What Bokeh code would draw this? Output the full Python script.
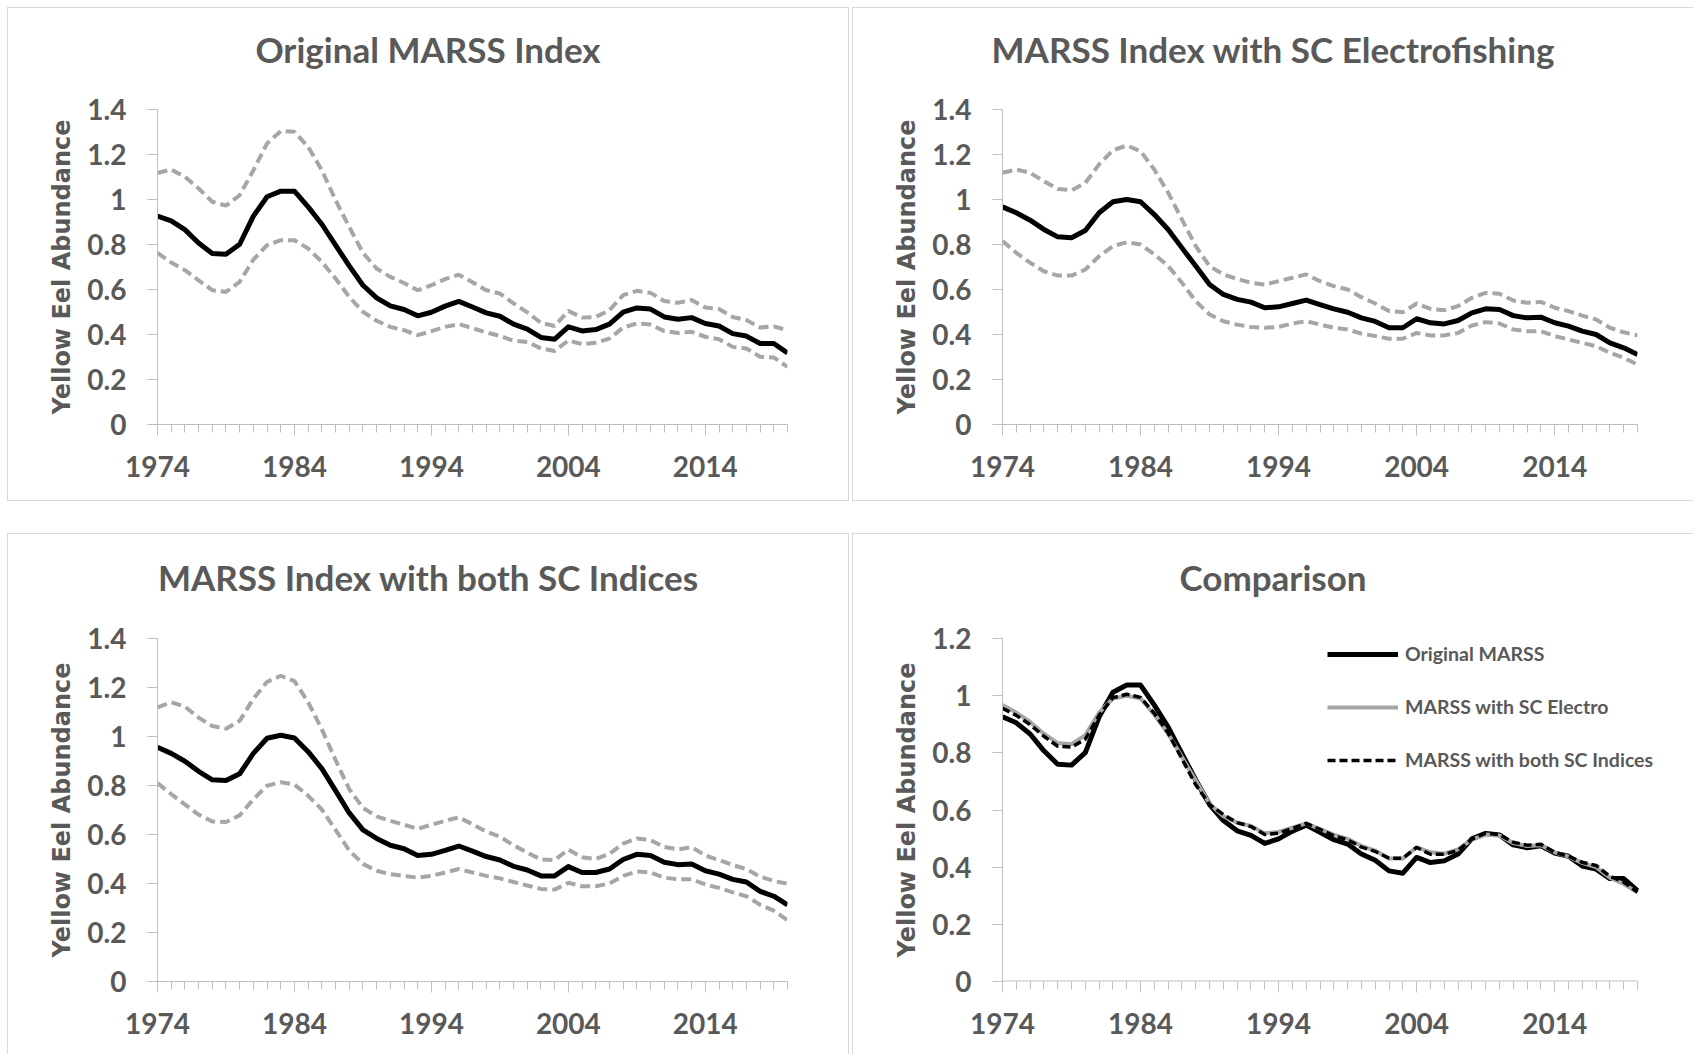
from bokeh.plotting import figure
from bokeh.models import Range1d, FixedTicker, Legend, LegendItem, Div
from bokeh.layouts import row, column
from bokeh.embed import file_html
from bokeh.resources import INLINE

# ---------------- data ----------------
years = list(range(1974, 2021))
year_ticks = [1974, 1984, 1994, 2004, 2014]

y_ticks_a = [0, 0.2, 0.4, 0.6, 0.8, 1.0, 1.2, 1.4]
y_labels_a = ["0", "0.2", "0.4", "0.6", "0.8", "1", "1.2", "1.4"]
y_ticks_b = [0, 0.2, 0.4, 0.6, 0.8, 1.0, 1.2]
y_labels_b = ["0", "0.2", "0.4", "0.6", "0.8", "1", "1.2"]

titles = ["Original MARSS Index", "MARSS Index with SC Electrofishing",
          "MARSS Index with both SC Indices", "Comparison"]
y_title = "Yellow Eel Abundance"
legend_labels = ["Original MARSS", "MARSS with SC Electro", "MARSS with both SC Indices"]

orig_mean = [0.926, 0.905, 0.866, 0.807, 0.760, 0.757, 0.801, 0.926, 1.012, 1.037,
             1.037, 0.967, 0.890, 0.797, 0.705, 0.619, 0.563, 0.527, 0.511, 0.483,
             0.499, 0.526, 0.547, 0.522, 0.496, 0.481, 0.446, 0.424, 0.387, 0.379,
             0.434, 0.416, 0.422, 0.446, 0.499, 0.518, 0.513, 0.478, 0.468, 0.475,
             0.449, 0.438, 0.404, 0.393, 0.360, 0.360, 0.318]
orig_upper = [1.118, 1.133, 1.101, 1.049, 0.990, 0.973, 1.019, 1.130, 1.249, 1.304,
              1.301, 1.234, 1.130, 0.997, 0.878, 0.763, 0.693, 0.656, 0.629, 0.597,
              0.619, 0.646, 0.666, 0.632, 0.597, 0.582, 0.538, 0.498, 0.452, 0.438,
              0.505, 0.475, 0.478, 0.508, 0.575, 0.594, 0.585, 0.549, 0.541, 0.553,
              0.520, 0.513, 0.478, 0.464, 0.431, 0.436, 0.419]
orig_lower = [0.763, 0.720, 0.686, 0.641, 0.597, 0.589, 0.634, 0.733, 0.797, 0.819,
              0.819, 0.782, 0.723, 0.649, 0.567, 0.501, 0.461, 0.434, 0.419, 0.397,
              0.415, 0.434, 0.446, 0.428, 0.409, 0.394, 0.372, 0.367, 0.338, 0.327,
              0.374, 0.357, 0.363, 0.382, 0.431, 0.449, 0.444, 0.415, 0.407, 0.412,
              0.390, 0.379, 0.345, 0.338, 0.301, 0.298, 0.256]

el_mean = [0.967, 0.941, 0.908, 0.867, 0.834, 0.830, 0.862, 0.941, 0.990, 1.000,
           0.990, 0.933, 0.867, 0.785, 0.704, 0.622, 0.578, 0.556, 0.544, 0.519,
           0.523, 0.538, 0.553, 0.533, 0.514, 0.499, 0.474, 0.458, 0.430, 0.430,
           0.470, 0.452, 0.447, 0.462, 0.496, 0.514, 0.511, 0.484, 0.474, 0.477,
           0.452, 0.437, 0.415, 0.400, 0.363, 0.341, 0.311]
el_upper = [1.119, 1.133, 1.119, 1.081, 1.047, 1.041, 1.074, 1.156, 1.219, 1.240,
            1.215, 1.133, 1.030, 0.911, 0.793, 0.704, 0.667, 0.647, 0.630, 0.622,
            0.637, 0.652, 0.667, 0.637, 0.615, 0.600, 0.566, 0.538, 0.504, 0.499,
            0.538, 0.514, 0.508, 0.526, 0.563, 0.585, 0.581, 0.551, 0.541, 0.545,
            0.519, 0.504, 0.484, 0.467, 0.430, 0.410, 0.396]
el_lower = [0.815, 0.763, 0.719, 0.681, 0.662, 0.662, 0.689, 0.748, 0.793, 0.810,
            0.800, 0.756, 0.704, 0.630, 0.548, 0.489, 0.459, 0.444, 0.433, 0.430,
            0.434, 0.449, 0.459, 0.444, 0.430, 0.422, 0.404, 0.393, 0.381, 0.381,
            0.407, 0.396, 0.396, 0.407, 0.440, 0.455, 0.449, 0.422, 0.415, 0.415,
            0.393, 0.378, 0.363, 0.348, 0.319, 0.296, 0.267]

both_mean = [0.956, 0.931, 0.899, 0.858, 0.823, 0.820, 0.848, 0.931, 0.993, 1.005,
             0.994, 0.938, 0.869, 0.779, 0.688, 0.619, 0.584, 0.556, 0.542, 0.514,
             0.519, 0.535, 0.553, 0.532, 0.510, 0.496, 0.470, 0.455, 0.431, 0.431,
             0.469, 0.445, 0.445, 0.459, 0.498, 0.519, 0.514, 0.487, 0.477, 0.480,
             0.452, 0.438, 0.417, 0.406, 0.368, 0.348, 0.313]
both_upper = [1.119, 1.140, 1.122, 1.077, 1.043, 1.032, 1.064, 1.154, 1.223, 1.248,
              1.226, 1.140, 1.029, 0.904, 0.785, 0.709, 0.674, 0.656, 0.640, 0.623,
              0.640, 0.656, 0.670, 0.642, 0.612, 0.591, 0.556, 0.526, 0.498, 0.496,
              0.539, 0.507, 0.500, 0.521, 0.563, 0.584, 0.577, 0.549, 0.539, 0.549,
              0.514, 0.496, 0.475, 0.459, 0.428, 0.410, 0.399]
both_lower = [0.810, 0.765, 0.723, 0.681, 0.653, 0.651, 0.678, 0.744, 0.799, 0.813,
              0.804, 0.758, 0.702, 0.619, 0.535, 0.480, 0.452, 0.438, 0.431, 0.424,
              0.431, 0.445, 0.459, 0.445, 0.431, 0.421, 0.406, 0.392, 0.378, 0.375,
              0.403, 0.389, 0.389, 0.400, 0.431, 0.449, 0.445, 0.424, 0.417, 0.417,
              0.396, 0.382, 0.364, 0.348, 0.313, 0.289, 0.250]

# ---------------- style ----------------
TXT = "#595959"
AX = "#bfbfbf"
BORDER = "#d9d9d9"
BAND = "#a6a6a6"
TICK_FONT = "28px"


def title_div(text, w, h, pad):
    html = ('<div style="width:%dpx;text-align:center;font-family:Lato;font-weight:bold;'
            'font-size:35px;line-height:35px;color:%s;padding-top:%dpx;'
            'white-space:nowrap;">%s</div>' % (w, TXT, pad, text))
    return Div(text=html, width=w, height=h, margin=0)


def chart_fig(ymax, yticks, ylabels, w, h, mbl, fw, mbt, fh, extra):
    n = years[-1] - years[0]
    xend = years[-1] + extra * n / float(fw - extra)
    p = figure(width=w, height=h, x_range=Range1d(years[0], xend),
               y_range=Range1d(0, ymax), output_backend="svg", toolbar_location=None,
               min_border_left=mbl, min_border_right=w - mbl - fw,
               min_border_top=mbt, min_border_bottom=h - mbt - fh)
    p.outline_line_color = None
    p.xgrid.visible = False
    p.ygrid.visible = False

    xa = p.xaxis[0]
    xa.ticker = FixedTicker(ticks=year_ticks, minor_ticks=years)
    xa.axis_line_color = AX if extra == 0 else None
    xa.major_tick_line_color = AX
    xa.minor_tick_line_color = AX
    xa.major_tick_in = 0
    xa.major_tick_out = 11
    xa.minor_tick_in = 0
    xa.minor_tick_out = 8
    xa.major_label_text_font = "Lato"
    xa.major_label_text_font_style = "bold"
    xa.major_label_text_font_size = TICK_FONT
    xa.major_label_text_color = TXT
    xa.major_label_standoff = 20
    if extra:
        # axis line only across the year span
        p.segment(x0=[years[0]], y0=[0], x1=[years[-1]], y1=[0],
                  line_color=AX, line_width=2)

    ya = p.yaxis[0]
    ya.ticker = FixedTicker(ticks=yticks)
    ya.major_label_overrides = dict(zip(yticks, ylabels))
    ya.axis_line_color = AX
    ya.major_tick_line_color = AX
    ya.minor_tick_line_color = None
    ya.major_tick_in = 0
    ya.major_tick_out = 10
    ya.major_label_text_font = "Lato"
    ya.major_label_text_font_style = "bold"
    ya.major_label_text_font_size = TICK_FONT
    ya.major_label_text_color = TXT
    ya.major_label_standoff = 21
    ya.axis_label = y_title
    ya.axis_label_text_font = "DejaVu Sans"
    ya.axis_label_text_font_style = "bold"
    ya.axis_label_text_font_size = "24px"
    ya.axis_label_text_color = TXT
    ya.axis_label_standoff = 8
    return p


def panel(title, ymax, yticks, ylabels, w, h, th, pad, mbl, fw, mbt, fh, borders,
          extra=0):
    t = title_div(title, w, th, pad)
    p = chart_fig(ymax, yticks, ylabels, w, h - th, mbl, fw + extra, mbt - th, fh, extra)
    css = {"box-sizing": "content-box", "border": "1px solid " + BORDER}
    for side in ("top", "right", "bottom", "left"):
        if side not in borders:
            css["border-" + side] = "none"
    box = column(t, p, spacing=0, styles=css)
    return box, p


def band_lines(p, mean, upper, lower):
    p.line(years, upper, line_color=BAND, line_width=4, line_dash="10 5")
    p.line(years, lower, line_color=BAND, line_width=4, line_dash="10 5")
    p.line(years, mean, line_color="black", line_width=5, line_join="round")


b1, p1 = panel(titles[0], 1.4, y_ticks_a, y_labels_a, 840, 492, 80, 24,
               149, 630, 101, 315, ("top", "right", "bottom", "left"))
band_lines(p1, orig_mean, orig_upper, orig_lower)

b2, p2 = panel(titles[1], 1.4, y_ticks_a, y_labels_a, 840, 492, 80, 24,
               149, 635, 101, 315, ("top", "bottom", "left"))
band_lines(p2, el_mean, el_upper, el_lower)

b3, p3 = panel(titles[2], 1.4, y_ticks_a, y_labels_a, 840, 520, 84, 26,
               149, 630, 104, 343, ("top", "right", "left"))
band_lines(p3, both_mean, both_upper, both_lower)

b4, p4 = panel(titles[3], 1.2, y_ticks_b, y_labels_b, 840, 520, 84, 26,
               149, 635, 104, 343, ("top", "left"), extra=24)
r1 = p4.line(years, orig_mean, line_color="black", line_width=5, line_join="round")
r2 = p4.line(years, el_mean, line_color=BAND, line_width=4, line_join="round")
r3 = p4.line(years, both_mean, line_color="black", line_width=3.5, line_dash="8 4")
legend = Legend(items=[LegendItem(label=legend_labels[0], renderers=[r1]),
                       LegendItem(label=legend_labels[1], renderers=[r2]),
                       LegendItem(label=legend_labels[2], renderers=[r3])],
                location=(325, 210), orientation="vertical",
                glyph_width=71, glyph_height=20, label_height=20,
                label_standoff=7, spacing=30, padding=0, margin=0,
                border_line_color=None, background_fill_alpha=0,
                label_text_font="Lato", label_text_font_style="bold",
                label_text_font_size="19.5px", label_text_color=TXT)
p4.add_layout(legend)

layout = column(row(b1, b2, spacing=3), row(b3, b4, spacing=3), spacing=32,
                margin=(7, 0, 0, 7))

open("out.html", "w").write(file_html(layout, INLINE))
